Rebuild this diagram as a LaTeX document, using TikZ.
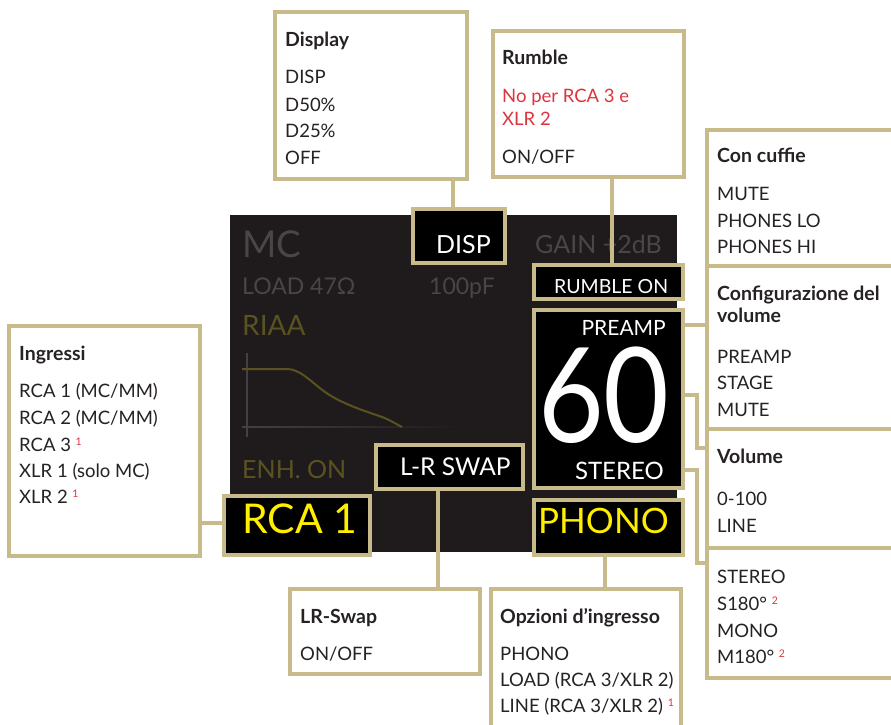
\documentclass[tikz,border=0pt]{standalone}
\usepackage{fontspec}
\setmainfont{Lato}
\usetikzlibrary{fit,calc}
\definecolor{gold}{RGB}{201,186,140}
\definecolor{panel}{RGB}{31,27,28}
\definecolor{dimgrey}{RGB}{72,70,70}
\definecolor{axisgrey}{RGB}{66,64,64}
\definecolor{olive}{RGB}{90,82,32}
\definecolor{lcdyellow}{RGB}{255,238,0}
\definecolor{notered}{RGB}{222,52,62}
\definecolor{ink}{RGB}{38,34,35}
\newcommand\fs[1]{\fontsize{#1}{#1}\selectfont}
\newcommand\fnote[1]{~\textcolor{notered}{\raisebox{6pt}{\fs{10.5}#1}}}
\begin{document}
\begin{tikzpicture}[x=1pt,y=-1pt,
 callout/.style={draw=gold, line width=4pt, fill=white, inner sep=0pt},
 lcdbox/.style={draw=gold, line width=4pt, fill=black, inner sep=0pt},
 wire/.style={draw=gold, line width=4pt},
 txt/.style={anchor=base west, inner sep=0pt, text=ink, font=\fs{18.5}},
 ttl/.style={txt, font=\fs{19.5}\bfseries},
 red/.style={txt, text=notered},
 lcd/.style={anchor=base west, inner sep=0pt},
]
\useasboundingbox (0,0) rectangle (891,725);
% display panel
\node[fill=panel, inner sep=0pt, fit={(230,215)(677,552)}] (panel) {};
% RIAA graph
\draw[axisgrey, line width=1.5pt] (247,353) -- (247,437);
\shade[left color=axisgrey, right color=panel] (242,426.2) rectangle (462,427.8);
\draw[olive, line width=2pt] (242,369) -- (287,369)
  .. controls (300,369) and (310,381) .. (325,392)
  .. controls (342,404) and (365,411) .. (382,417)
  .. controls (390,420) and (396,424) .. (402,427);
% dim LCD texts
\node[lcd, text=dimgrey, font=\fs{37}] (mc) at (242,257) {MC};
\node[lcd, text=dimgrey, font=\fs{25}] (gain) at (535,253) {GAIN +2dB};
\node[lcd, text=dimgrey, font=\fs{23}] (load) at (242,294) {LOAD 47Ω};
\node[lcd, text=dimgrey, font=\fs{23}] (cap) at (429,294) {100pF};
\node[lcd, text=olive, font=\fs{28}] (riaa) at (242,335) {RIAA};
\node[lcd, text=olive, font=\fs{25}] (enh) at (242,478) {ENH. ON};
% highlighted LCD boxes
\node[lcdbox, fit={(413,209)(505,263)}] (dispbox) {};
\node[lcdbox, fit={(534,265)(683,299)}] (rumbleon) {};
\node[lcdbox, fit={(534,310)(683,488)}] (volbox) {};
\node[lcdbox, fit={(534,500)(683,555)}] (phono) {};
\node[lcdbox, fit={(224,496)(370,555)}] (rca) {};
\node[lcdbox, fit={(376,445)(523,489)}] (lrswap) {};
\node[lcd, text=white, font=\fs{25}] (disptxt) at (436,253) {DISP};
\node[lcd, text=white, font=\fs{19.5}] (rumbletxt) at (554,293) {RUMBLE ON};
\node[lcd, anchor=base east, text=white, font=\fs{21}] (preamptxt) at (666,335) {PREAMP};
\node[lcd, anchor=base east, text=white, font=\fs{132}, text depth=0pt] (sixty) at (670,442) {\scalebox{0.86}[1]{60}};
\node[lcd, anchor=base east, text=white, font=\fs{24}] (stereotxt) at (664,479) {STEREO};
\node[lcd, text=white, font=\fs{24.5}] (lrtxt) at (400,475) {L-R SWAP};
\node[lcd, text=lcdyellow, font=\fs{41}] (rcatxt) at (242,533) {RCA 1};
\node[lcd, text=lcdyellow, font=\fs{35}] (phonotxt) at (538,533) {PHONO};
% callout boxes
\node[callout, fit={(275,12)(467,179)}] (dispcall) {};
\node[callout, fit={(493,31)(684,177)}] (rumblecall) {};
\node[callout, fit={(707,130)(900,266)}] (cuffie) {};
\node[callout, fit={(707,266)(900,429)}] (volcfg) {};
\node[callout, fit={(707,429)(900,548)}] (volume) {};
\node[callout, fit={(707,548)(900,678)}] (stereo) {};
\node[callout, fit={(9,326)(200,556)}] (ingressi) {};
\node[callout, fit={(290,589)(480,674)}] (lrcall) {};
\node[callout, fit={(491,589)(681,740)}] (opzioni) {};
% connectors
\draw[wire] ([xshift=-6pt]dispbox.north) -- ([xshift=-6pt]dispbox.north |- dispcall.south);
\draw[wire] ([xshift=3.5pt]rumbleon.north) -- ([xshift=3.5pt]rumbleon.north |- rumblecall.south);
\draw[wire] ([yshift=2.5pt]rca.west) -- ([yshift=2.5pt]rca.west -| ingressi.east);
\draw[wire] ([xshift=-11.5pt]lrswap.south) -- ([xshift=-11.5pt]lrswap.south |- lrcall.north);
\draw[wire] ([xshift=-3.5pt]phono.south) -- ([xshift=-3.5pt]phono.south |- opzioni.north);
\draw[wire] ([yshift=-17pt]volbox.north east) -- ([yshift=-17pt]volbox.north east -| volcfg.west);
\draw[wire] ([yshift=-87pt]volbox.north east) -- ++(12,0) |- ([yshift=-21pt]volume.north west);
\draw[wire] ([yshift=-162pt]volbox.north east) -- ++(12,0) |- ([yshift=-17pt]stereo.north west);
% callout texts
\node[ttl] (d0) at (285,47) {Display};
\node[txt] (d1) at (285,84) {DISP};
\node[txt] (d2) at (285,111) {D50\%};
\node[txt] (d3) at (285,137) {D25\%};
\node[txt] (d4) at (285,164) {OFF};
\node[ttl] (r0) at (502,65) {Rumble};
\node[red] (r1) at (502,102) {No per RCA 3 e};
\node[red] (r2) at (502,125) {XLR 2};
\node[txt] (r3) at (502,163) {ON/OFF};
\node[ttl] (c0) at (717,162) {Con cuffie};
\node[txt] (c1) at (717,200) {MUTE};
\node[txt] (c2) at (717,227) {PHONES LO};
\node[txt] (c3) at (717,253) {PHONES HI};
\node[ttl] (v0) at (717,300) {Configurazione del};
\node[ttl] (v0b) at (717,322) {volume};
\node[txt] (v1) at (717,363) {PREAMP};
\node[txt] (v2) at (717,389) {STAGE};
\node[txt] (v3) at (717,416) {MUTE};
\node[ttl] (w0) at (717,463) {Volume};
\node[txt] (w1) at (717,505) {0-100};
\node[txt] (w2) at (717,532) {LINE};
\node[txt] (s1) at (717,583) {STEREO};
\node[txt] (s2) at (717,610) {S180°\fnote{2}};
\node[txt] (s3) at (717,637) {MONO};
\node[txt] (s4) at (717,663) {M180°\fnote{2}};
\node[ttl] (i0) at (19,360) {Ingressi};
\node[txt] (i1) at (19,397) {RCA 1 (MC/MM)};
\node[txt] (i2) at (19,424) {RCA 2 (MC/MM)};
\node[txt] (i3) at (19,451) {RCA 3\fnote{1}};
\node[txt] (i4) at (19,477) {XLR 1 (solo MC)};
\node[txt] (i5) at (19,503) {XLR 2\fnote{1}};
\node[ttl] (l0) at (300,623) {LR-Swap};
\node[txt] (l1) at (300,660) {ON/OFF};
\node[ttl] (o0) at (500,623) {Opzioni d’ingresso};
\node[txt] (o1) at (500,660) {PHONO};
\node[txt] (o2) at (500,686) {LOAD (RCA 3/XLR 2)};
\node[txt] (o3) at (500,712) {LINE (RCA 3/XLR 2)\fnote{1}};
\end{tikzpicture}
\end{document}
